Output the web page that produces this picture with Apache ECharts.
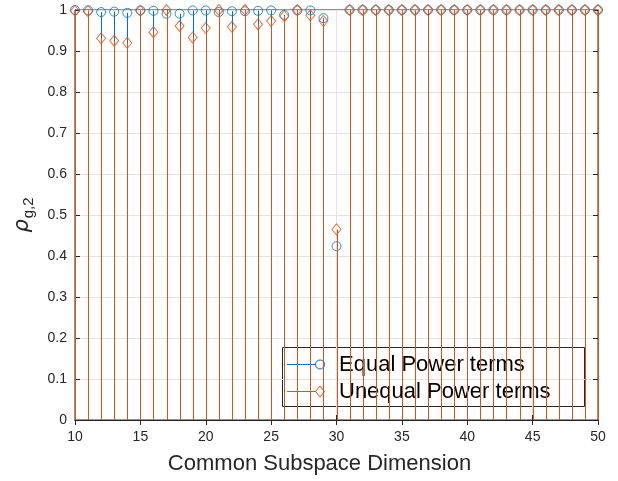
<!DOCTYPE html>
<html>
<head>
<meta charset="utf-8">
<script src="https://cdn.jsdelivr.net/npm/echarts@6/dist/echarts.min.js"></script>
<style>html,body{margin:0;padding:0;background:#fff}#c{width:618px;height:481px}</style>
</head>
<body>
<div id="c"></div>
<script>
const dims = [10,11,12,13,14,15,16,17,18,19,20,21,22,23,24,25,26,27,28,29,30,31,32,33,34,35,36,37,38,39,40,41,42,43,44,45,46,47,48,49,50];
const equalPower = [1.000,0.999,0.995,0.996,0.993,0.999,0.998,0.991,0.991,0.999,0.999,0.995,0.997,0.997,0.998,0.999,0.988,0.999,0.999,0.980,0.424,
  1,1,1,1,1,1,1,1,1,1,1,1,1,1,1,1,1,1,1,1];
const unequalPower = [0.998,0.997,0.931,0.925,0.920,0.998,0.946,1.000,0.961,0.933,0.956,1.000,0.959,1.000,0.965,0.973,0.985,1.000,0.987,0.973,0.465,
  1,1,1,1,1,1,1,1,1,1,1,1,1,1,1,1,1,1,1,1];
const seriesNames = ['Equal Power terms','Unequal Power terms'];
const xTitle = 'Common Subspace Dimension';

const BLUE = '#0072BD', ORANGE = '#D95319', INK = '#262626';
const FONT = '"Liberation Sans", Arial, sans-serif';

const chart = echarts.init(document.getElementById('c'), null, {renderer:'canvas'});

function stemSeries(vals, color, z) {
  return {
    type: 'custom', z: z, silent: true,
    data: dims.map((d,i)=>[d, vals[i]]),
    renderItem: function(params, api) {
      const p0 = api.coord([api.value(0), 0]);
      const p1 = api.coord([api.value(0), api.value(1)]);
      const x = Math.round(p0[0]) + 0.5;
      return {type:'line', shape:{x1:x, y1:p0[1], x2:x, y2:p1[1]}, style:{stroke:color, lineWidth:1}};
    }
  };
}
function markerSeries(vals, color, symbol, size, z) {
  return {
    type: 'scatter', z: z, clip: false,
    data: dims.map((d,i)=>[d, vals[i]]),
    symbol: symbol, symbolSize: size,
    itemStyle: {color: 'rgba(0,0,0,0)', borderColor: color, borderWidth: 1}
  };
}

const tickLabel = {color: INK, fontSize: 14, fontFamily: FONT};
chart.setOption({
  animation: false,
  backgroundColor: '#fff',
  grid: {left: 75, right: 20, top: 10, bottom: 61, show: true, borderColor: INK, borderWidth: 1, backgroundColor: '#fff',
         containLabel: false, outerBoundsMode: 'none'},
  xAxis: [{
    type: 'value', min: 10, max: 50, interval: 5, position: 'bottom',
    axisLine: {show: true, lineStyle: {color: INK}},
    axisTick: {show: true, inside: true, length: 5, lineStyle: {color: INK}},
    axisLabel: Object.assign({margin: 10}, tickLabel),
    splitLine: {show: true, lineStyle: {color: '#e3e3e3', width: 1}},
    name: xTitle, nameLocation: 'middle', nameGap: 33,
    nameTextStyle: {color: INK, fontSize: 22, fontFamily: FONT, padding: [0, 34, 0, 0]}
  },{
    type: 'value', min: 10, max: 50, interval: 5, position: 'top',
    axisLine: {show: true, lineStyle: {color: INK}},
    axisTick: {show: true, inside: true, length: 5, lineStyle: {color: INK}},
    axisLabel: {show: false}, splitLine: {show: false}
  }],
  yAxis: [{
    type: 'value', min: 0, max: 1, interval: 0.1, position: 'left',
    axisLine: {show: true, lineStyle: {color: INK}},
    axisTick: {show: true, inside: true, length: 5, lineStyle: {color: INK}},
    axisLabel: Object.assign({margin: 8, formatter: v => String(Math.round(v*10)/10)}, tickLabel),
    splitLine: {show: true, lineStyle: {color: '#e3e3e3', width: 1}},
    name: '{a|ρ}{b|g,2}', nameLocation: 'middle', nameRotate: 90, nameGap: 38,
    nameTextStyle: {
      color: INK, fontFamily: FONT,
      rich: {
        a: {fontSize: 21, fontStyle: 'italic', fontFamily: '"DejaVu Sans", sans-serif', color: INK, verticalAlign: 'top', lineHeight: 22},
        b: {fontSize: 15, fontFamily: FONT, color: INK, lineHeight: 16, padding: [12, 0, 0, 1]}
      }
    }
  },{
    type: 'value', min: 0, max: 1, interval: 0.1, position: 'right',
    axisLine: {show: true, lineStyle: {color: INK}},
    axisTick: {show: true, inside: true, length: 5, lineStyle: {color: INK}},
    axisLabel: {show: false}, splitLine: {show: false}
  }],
  series: [
    stemSeries(equalPower, BLUE, 2),
    markerSeries(equalPower, BLUE, 'circle', 9, 3),
    stemSeries(unequalPower, ORANGE, 4),
    markerSeries(unequalPower, ORANGE, 'diamond', [9, 11], 5)
  ],
  graphic: [{
    type: 'group', left: 282, top: 347, z: 100,
    children: [
      {type:'rect', shape:{x:0.5, y:0.5, width:302, height:59}, style:{fill:'#fff', stroke:INK, lineWidth:1}},
      {type:'line', shape:{x1:5, y1:17.5, x2:38, y2:17.5}, style:{stroke:BLUE, lineWidth:1}},
      {type:'circle', shape:{cx:38, cy:17.5, r:4.5}, style:{fill:'#fff', stroke:BLUE, lineWidth:1}},
      {type:'text', x:57, y:17.5, style:{text:seriesNames[0], fill:'#000', fontSize:22, fontFamily:FONT, verticalAlign:'middle', align:'left'}},
      {type:'line', shape:{x1:5, y1:44.5, x2:38, y2:44.5}, style:{stroke:ORANGE, lineWidth:1}},
      {type:'polygon', shape:{points:[[38,39],[42.5,44.5],[38,50],[33.5,44.5]]}, style:{fill:'#fff', stroke:ORANGE, lineWidth:1}},
      {type:'text', x:57, y:44.5, style:{text:seriesNames[1], fill:'#000', fontSize:22, fontFamily:FONT, verticalAlign:'middle', align:'left'}}
    ]
  }]
});
</script>
</body>
</html>
